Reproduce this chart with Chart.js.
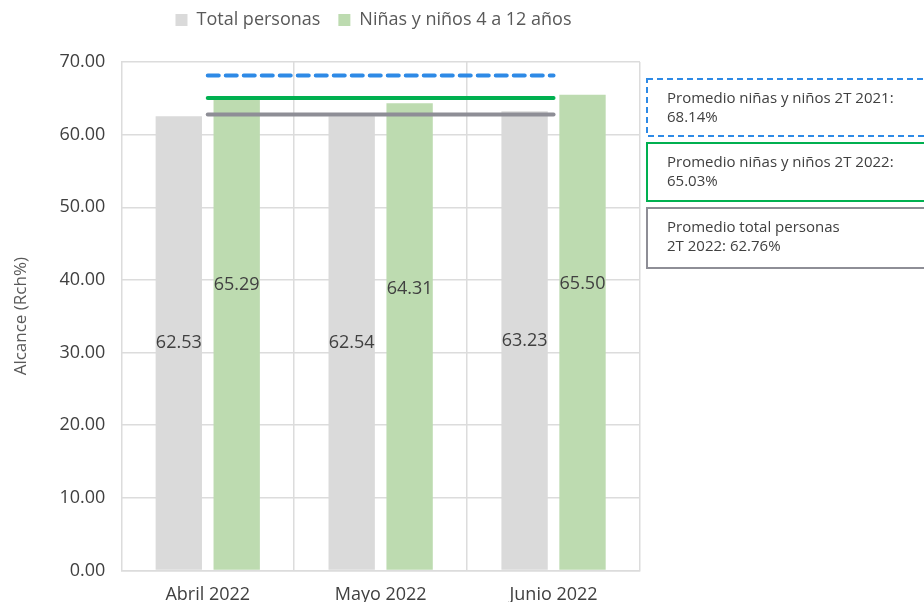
<!DOCTYPE html>
<html>
<head>
<meta charset="utf-8">
<script src="https://cdn.jsdelivr.net/npm/chart.js@4/dist/chart.umd.min.js"></script>
<style>
  html, body { margin: 0; padding: 0; background: #fff; overflow: hidden; }
  #wrap { width: 924px; height: 602px; position: relative; }
</style>
</head>
<body>
<div id="wrap"><canvas id="alcanceChart"></canvas></div>
<script>
// datos
const meses = ["Abril 2022", "Mayo 2022", "Junio 2022"];
const totalPersonas = [62.53, 62.54, 63.23];
const ninos = [65.29, 64.31, 65.5];
const promNinos2021 = 68.14;
const promNinos2022 = 65.03;
const promTotal2022 = 62.76;
const yTicks = [0, 10, 20, 30, 40, 50, 60, 70];
const notas = [
  ["Promedio niñas y niños 2T 2021:", "68.14%"],
  ["Promedio niñas y niños 2T 2022:", "65.03%"],
  ["Promedio total personas", "2T 2022: 62.76%"],
];

const FONT = "'Open Sans', 'DejaVu Sans', sans-serif";
const TEXT = "#404040";

// etiquetas de valor dentro de las barras
const barLabels = {
  id: "barLabels",
  afterDatasetsDraw(chart) {
    const ctx = chart.ctx;
    ctx.save();
    ctx.font = "18px " + FONT;
    ctx.fillStyle = TEXT;
    ctx.textAlign = "center";
    ctx.textBaseline = "middle";
    [0, 1].forEach((di) => {
      const meta = chart.getDatasetMeta(di);
      meta.data.forEach((bar, i) => {
        const v = chart.data.datasets[di].data[i];
        let y = (bar.y + bar.base) / 2;
        if (di === 1) y -= 48;
        ctx.fillText(v.toFixed(2), bar.x, y);
      });
    });
    ctx.restore();
  },
};

// cuadros de texto a la derecha
const notasBoxes = {
  id: "notasBoxes",
  afterDraw(chart) {
    const ctx = chart.ctx;
    const boxes = [
      { color: "#2e8ae6", dash: [6, 4], top: 79, h: 57 },
      { color: "#00b050", dash: [], top: 143, h: 58 },
      { color: "#8e8e96", dash: [], top: 208, h: 60 },
    ];
    ctx.save();
    boxes.forEach((b, i) => {
      ctx.lineWidth = 2;
      ctx.strokeStyle = b.color;
      ctx.setLineDash(b.dash);
      ctx.strokeRect(647, b.top, 300, b.h);
      ctx.setLineDash([]);
      ctx.font = "15px " + FONT;
      ctx.fillStyle = TEXT;
      ctx.textBaseline = "middle";
      ctx.fillText(notas[i][0], 667, b.top + 20);
      ctx.fillText(notas[i][1], 667, b.top + 39);
    });
    ctx.restore();
  },
};

// espacio extra bajo la leyenda y leyenda algo a la derecha
const legendSpace = {
  id: "legendSpace",
  beforeInit(chart) {
    const origFit = chart.legend.fit;
    chart.legend.fit = function () {
      origFit.bind(chart.legend)();
      this.height += 23;
    };
  },
  afterLayout(chart) {
    chart.legend.left += 48;
    chart.legend.right += 48;
  },
};

const ctx = document.getElementById("alcanceChart").getContext("2d");
const chart = new Chart(ctx, {
  type: "bar",
  data: {
    labels: meses,
    datasets: [
      {
        label: "Total personas",
        data: totalPersonas,
        backgroundColor: "#dadada",
        categoryPercentage: 0.67,
        barPercentage: 0.8,
        order: 2,
      },
      {
        label: "Niñas y niños 4 a 12 años",
        data: ninos,
        backgroundColor: "#bddbb0",
        categoryPercentage: 0.67,
        barPercentage: 0.8,
        order: 2,
      },
      {
        type: "line",
        label: "Promedio niñas y niños 2T 2021",
        data: meses.map(() => promNinos2021),
        borderColor: "#2e8ae6",
        borderWidth: 4,
        borderDash: [11, 7],
        borderCapStyle: "round",
        pointRadius: 0,
        fill: false,
        order: 0,
      },
      {
        type: "line",
        label: "Promedio niñas y niños 2T 2022",
        data: meses.map(() => promNinos2022),
        borderColor: "#00b050",
        borderWidth: 4,
        borderCapStyle: "round",
        pointRadius: 0,
        fill: false,
        order: 0,
      },
      {
        type: "line",
        label: "Promedio total personas 2T 2022",
        data: meses.map(() => promTotal2022),
        borderColor: "#8e8e96",
        borderWidth: 4,
        borderCapStyle: "round",
        pointRadius: 0,
        fill: false,
        order: 0,
      },
    ],
  },
  options: {
    responsive: true,
    maintainAspectRatio: false,
    animation: false,
    layout: { padding: { left: 11, right: 284, top: -7, bottom: -18 } },
    scales: {
      x: {
        grid: { color: "#dcdcdc", lineWidth: 1.5, drawTicks: false },
        border: { color: "#dcdcdc", width: 1.5 },
        ticks: { color: TEXT, font: { family: FONT, size: 18 }, padding: 14 },
      },
      y: {
        min: 0,
        max: 70,
        afterBuildTicks(axis) {
          axis.ticks = yTicks.map((v) => ({ value: v }));
        },
        grid: { color: "#dcdcdc", lineWidth: 1.5, drawTicks: false },
        border: { display: false },
        ticks: {
          color: TEXT,
          font: { family: FONT, size: 18 },
          padding: 16,
          callback: (v) => Number(v).toFixed(2),
        },
        title: {
          display: true,
          text: "Alcance (Rch%)",
          color: "#595959",
          font: { family: FONT, size: 17 },
          padding: { top: 0, bottom: 12 },
        },
      },
    },
    plugins: {
      legend: {
        position: "top",
        labels: {
          color: "#595959",
          font: { family: FONT, size: 18 },
          boxWidth: 12,
          boxHeight: 12,
          padding: 18,
          filter: (item) => item.datasetIndex < 2,
        },
      },
      tooltip: { enabled: false },
    },
  },
  plugins: [barLabels, notasBoxes, legendSpace],
});
</script>
</body>
</html>
